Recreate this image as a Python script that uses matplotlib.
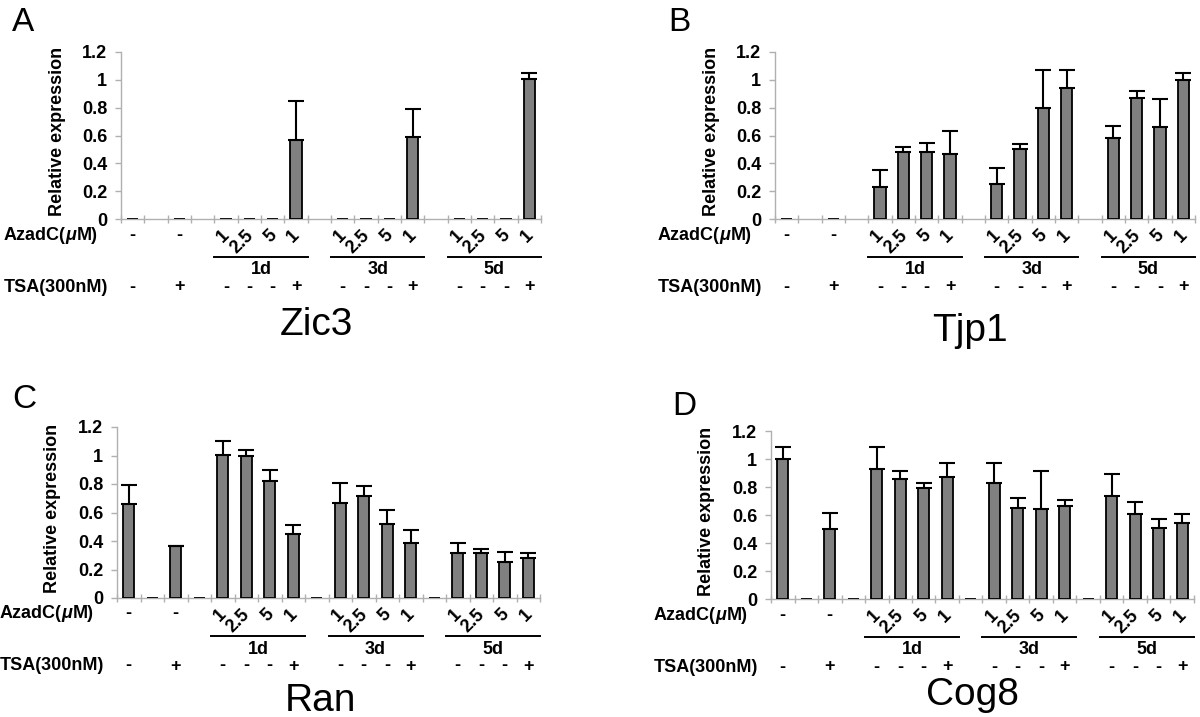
import numpy as np
import matplotlib
matplotlib.use("Agg")
import matplotlib.pyplot as plt
from matplotlib import transforms
from matplotlib.lines import Line2D
from matplotlib.text import Annotation

plt.rcParams['font.family'] = ['Liberation Sans', 'DejaVu Sans']

W, H = 1200, 717
nan = np.nan

# ---- categories / labels ----
azadc_labels = ['-', '', '-', '', '1', '2.5', '5', '1', '', '1', '2.5', '5', '1', '', '1', '2.5', '5', '1']
tsa_labels = ['-', '', '+', '', '-', '-', '-', '+', '', '-', '-', '-', '+', '', '-', '-', '-', '+']
groups = ['1d', '3d', '5d']
titles = ['Zic3', 'Tjp1', 'Ran', 'Cog8']
letters = ['A', 'B', 'C', 'D']
yticks = [0, 0.2, 0.4, 0.6, 0.8, 1, 1.2]
ytick_labels = ['0', '0.2', '0.4', '0.6', '0.8', '1', '1.2']

# ---- data (mean, upper error) ----
zic3_mean = [0, nan, 0, nan, 0, 0, 0, 0.566, nan, 0, 0, 0, 0.592, nan, 0, 0, 0, 1.003]
zic3_err = [0, 0, 0, 0, 0, 0, 0, 0.285, 0, 0, 0, 0, 0.199, 0, 0, 0, 0, 0.047]

tjp1_mean = [0, nan, 0, nan, 0.230, 0.479, 0.479, 0.467, nan, 0.254, 0.501, 0.800, 0.941, nan, 0.584, 0.872, 0.659, 1.001]
tjp1_err = [0, 0, 0, 0, 0.124, 0.036, 0.070, 0.163, 0, 0.112, 0.036, 0.271, 0.130, 0, 0.084, 0.045, 0.201, 0.050]

ran_mean = [0.658, 0, 0.362, 0, 1.005, 0.993, 0.820, 0.449, 0, 0.667, 0.716, 0.517, 0.388, 0, 0.317, 0.317, 0.251, 0.282]
ran_err = [0.136, 0, 0.005, 0, 0.095, 0.047, 0.080, 0.065, 0, 0.139, 0.068, 0.103, 0.091, 0, 0.071, 0.024, 0.075, 0.035]

cog8_mean = [1.002, 0, 0.499, 0, 0.928, 0.854, 0.794, 0.875, 0, 0.830, 0.651, 0.642, 0.663, 0, 0.735, 0.604, 0.510, 0.546]
cog8_err = [0.081, 0, 0.116, 0, 0.160, 0.057, 0.034, 0.096, 0, 0.138, 0.072, 0.269, 0.045, 0, 0.159, 0.092, 0.058, 0.058]

series = [(zic3_mean, zic3_err), (tjp1_mean, tjp1_err), (ran_mean, ran_err), (cog8_mean, cog8_err)]

# ---- layout in pixels ----
panels = [
    dict(left=121, top=52, width=420, bottom=219, letter=(12, 7), title=(316, 335)),
    dict(left=775, top=52, width=420, bottom=219, letter=(668, 7), title=(970, 341)),
    dict(left=117, top=427, width=423, bottom=598, letter=(12, 384), title=(320, 711)),
    dict(left=771, top=431, width=423, bottom=599, letter=(672, 391), title=(972, 705)),
]

fig = plt.figure(figsize=(W / 100, H / 100), dpi=100)

def fy(py):
    return 1 - py / H

SPINE = '#b0b0b0'
BAR = '#808080'
FS = 13

for k, p in enumerate(panels):
    mean, err = series[k]
    ax = fig.add_axes([p['left'] / W, fy(p['bottom']), p['width'] / W, (p['bottom'] - p['top']) / H])
    x = np.arange(len(azadc_labels))
    mean_a = np.array(mean, dtype=float)
    err_a = np.array(err, dtype=float)
    ax.bar(x, mean_a, width=0.48, color=BAR, edgecolor='black', linewidth=1.3, zorder=3)
    m = err_a > 0
    ax.errorbar(x[m], mean_a[m], yerr=[np.zeros(m.sum()), err_a[m]], fmt='none',
                ecolor='black', elinewidth=1.5, capsize=5.5, capthick=1.5, zorder=4)
    ax.set_xlim(-0.5, len(x) - 0.5)
    ax.set_ylim(0, 1.2)
    ax.set_yticks(yticks)
    ax.set_yticklabels(ytick_labels, fontsize=FS, fontweight='bold')
    ax.set_xticks(np.arange(len(x) + 1) - 0.5)
    ax.set_xticklabels([])
    for s in ['top', 'right']:
        ax.spines[s].set_visible(False)
    for s in ['left', 'bottom']:
        ax.spines[s].set_color(SPINE)
        ax.spines[s].set_linewidth(1.0)
    ax.tick_params(axis='y', direction='out', length=4, width=1, color=SPINE, pad=6)
    ax.tick_params(axis='x', direction='inout', length=6, width=1, color=SPINE)

    # y label
    fig.text((p['left'] - 64) / W, fy((p['top'] + p['bottom']) / 2 - 4), 'Relative expression',
             rotation=90, ha='center', va='center', fontsize=FS, fontweight='bold')

    tr = transforms.blended_transform_factory(ax.transData, fig.transFigure)
    base = p['bottom']
    for i, lab in enumerate(azadc_labels):
        if lab == '-':
            ax.text(i, fy(base + 16), lab, transform=tr, ha='center', va='center',
                    fontsize=FS, fontweight='bold')
        elif lab:
            ax.text(i + 0.05, fy(base + 14), lab, transform=tr, ha='right', va='center',
                    rotation=45, rotation_mode='anchor', fontsize=FS, fontweight='bold')
    for i, lab in enumerate(tsa_labels):
        if lab:
            ax.text(i, fy(base + 68), lab, transform=tr, ha='center', va='center',
                    fontsize=FS, fontweight='bold')
    for g, name in enumerate(groups):
        start = 4 + 5 * g
        ax.add_line(Line2D([start - 0.5, start + 3.5], [fy(base + 38)] * 2, transform=tr,
                           color='black', linewidth=1.4, clip_on=False))
        ax.text(start + 1.5, fy(base + 51), name, transform=tr, ha='center', va='center',
                fontsize=FS, fontweight='bold')
    # row labels: AzadC(μM) with italic μ
    t1 = fig.text((p['left'] - 117) / W, fy(base + 16), 'AzadC(', ha='left', va='center',
                  fontsize=FS, fontweight='bold')
    a2 = fig.add_artist(Annotation('μ', xy=(1, 0.5), xycoords=t1, ha='left', va='center',
                                   fontsize=FS, fontweight='bold', fontstyle='italic'))
    a3 = fig.add_artist(Annotation('M)', xy=(1, 0.5), xycoords=a2, ha='left', va='center',
                                   fontsize=FS, fontweight='bold'))
    fig.text((p['left'] - 117) / W, fy(base + 68), 'TSA(300nM)', ha='left', va='center',
             fontsize=FS, fontweight='bold')

    lx, ly = p['letter']
    fig.text(lx / W, fy(ly), letters[k], ha='left', va='top', fontsize=24)
    tx, ty = p['title']
    fig.text(tx / W, fy(ty), titles[k], ha='center', va='baseline', fontsize=28)

fig.savefig('out.png', dpi=100)
